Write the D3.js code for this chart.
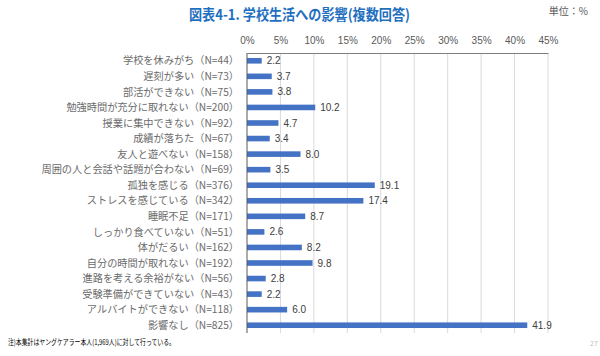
<!DOCTYPE html>
<html><head><meta charset="utf-8">
<script src="https://cdn.jsdelivr.net/npm/d3@7"></script>
<style>
body{margin:0;background:#fff;}
svg{display:block;font-family:"Noto Sans CJK JP","Noto Sans",sans-serif;}
</style></head>
<body><svg id="c" width="600" height="356"></svg>
<script>
const categories = ["学校を休みがち","遅刻が多い","部活ができない","勉強時間が充分に取れない","授業に集中できない","成績が落ちた","友人と遊べない","周囲の人と会話や話題が合わない","孤独を感じる","ストレスを感じている","睡眠不足","しっかり食べていない","体がだるい","自分の時間が取れない","進路を考える余裕がない","受験準備ができていない","アルバイトができない","影響なし"];
const counts = [44,73,75,200,92,67,158,69,376,342,171,51,162,192,56,43,118,825];
const values = [2.2,3.7,3.8,10.2,4.7,3.4,8.0,3.5,19.1,17.4,8.7,2.6,8.2,9.8,2.8,2.2,6.0,41.9];
const ticks = [0,5,10,15,20,25,30,35,40,45];
const title = "図表4-1. 学校生活への影響(複数回答)";
const unit = "単位：%";
const note = "注)本集計はヤングケアラー本人(1,969人)に対して行っている。";

const svg = d3.select("#c");
const x = d3.scaleLinear().domain([0,45]).range([247,548]);
const y = d3.scaleBand().domain(categories).range([53,333]).paddingInner(0.64).paddingOuter(0.32);

// title
svg.append("text").attr("x",189).attr("y",20)
  .attr("font-size",14.5).attr("font-weight","bold").attr("fill","#1f6fbf")
  .attr("textLength",221).attr("lengthAdjust","spacingAndGlyphs").text(title);
svg.append("text").attr("x",588).attr("y",15).attr("text-anchor","end")
  .attr("font-size",10).attr("fill","#595959").text(unit);

// gridlines
svg.append("g").selectAll("line").data(ticks.slice(1)).join("line")
  .attr("x1",d=>x(d)).attr("x2",d=>x(d)).attr("y1",53).attr("y2",333)
  .attr("stroke","#d9d9d9").attr("stroke-width",1);

// top axis
const ax = svg.append("g").attr("transform","translate(0,53)")
  .call(d3.axisTop(x).tickValues(ticks).tickFormat(d=>d+"%").tickSize(0).tickPadding(9));
ax.select(".domain").attr("stroke","#7f7f7f").attr("stroke-width",1.2);
ax.selectAll("text").attr("font-size",10).attr("fill","#595959").attr("font-family","Liberation Sans, Arial, sans-serif");

// bars
svg.append("g").selectAll("rect").data(values).join("rect")
  .attr("x",x(0)).attr("y",(d,i)=>y(categories[i]))
  .attr("width",d=>x(d)-x(0)).attr("height",y.bandwidth())
  .attr("fill","#4472c4");

// left axis line
svg.append("line").attr("x1",x(0)).attr("x2",x(0)).attr("y1",53).attr("y2",333)
  .attr("stroke","#595959").attr("stroke-width",1);

// value labels
svg.append("g").selectAll("text").data(values).join("text")
  .attr("x",d=>x(d)+5).attr("y",(d,i)=>y(categories[i])+y.bandwidth()/2)
  .attr("dy","0.35em").attr("font-size",10).attr("fill","#404040")
  .attr("font-family","Liberation Sans, Arial, sans-serif")
  .text(d=>d.toFixed(1));

// category labels
svg.append("g").selectAll("text").data(categories).join("text")
  .attr("x",239).attr("y",d=>y(d)+y.bandwidth()/2).attr("dy","0.36em")
  .attr("text-anchor","end").attr("font-size",10.2).attr("fill","#6b6b6b")
  .text((d,i)=>d+"（N="+counts[i]+"）");

// footnote
svg.append("text").attr("x",8).attr("y",345).attr("font-size",7.5).attr("fill","#000")
  .attr("textLength",167).attr("lengthAdjust","spacingAndGlyphs").text(note);
svg.append("text").attr("x",590).attr("y",346).attr("font-size",7).attr("fill","#bfbfbf").text("27");
</script></body></html>
